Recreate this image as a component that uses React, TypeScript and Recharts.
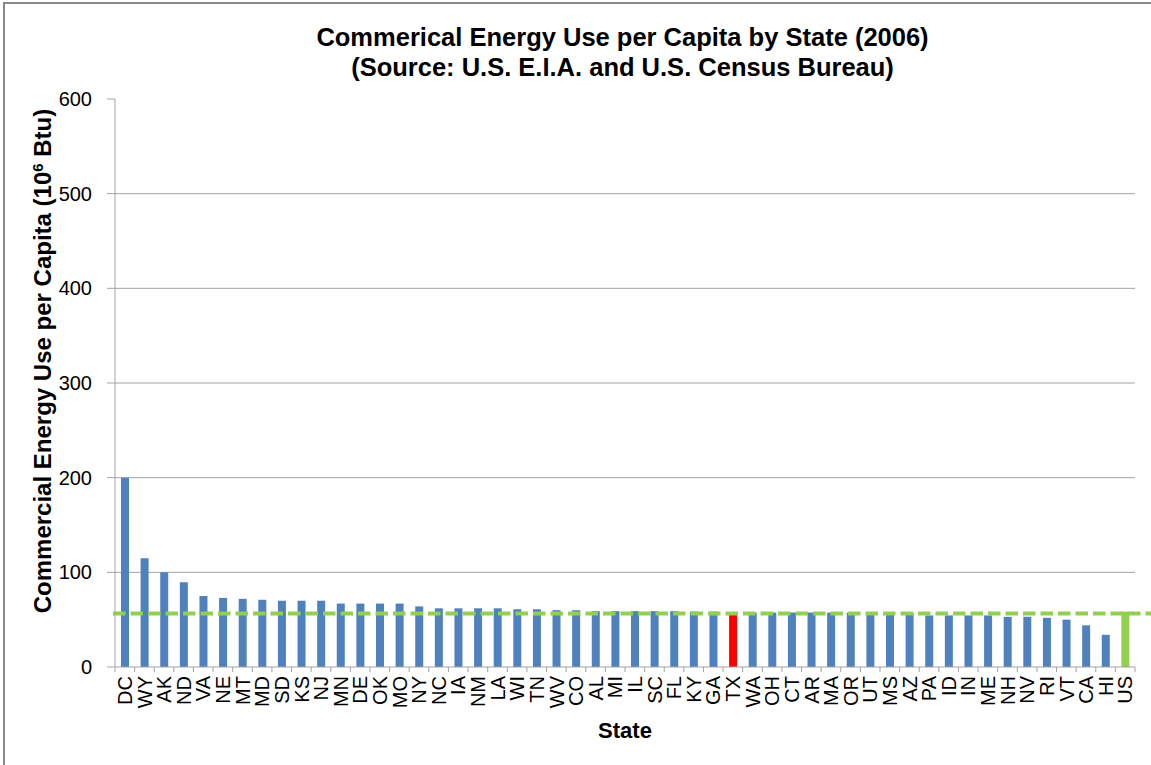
import React from 'react';
import { BarChart, Bar, XAxis, YAxis, CartesianGrid, Cell, ReferenceLine } from 'recharts';

const states = [
    'DC', 'WY', 'AK', 'ND', 'VA', 'NE', 'MT', 'MD', 'SD', 'KS', 'NJ', 'MN', 'DE', 'OK', 'MO', 'NY', 'NC',
    'IA', 'NM', 'LA', 'WI', 'TN', 'WV', 'CO', 'AL', 'MI', 'IL', 'SC', 'FL', 'KY', 'GA', 'TX', 'WA', 'OH',
    'CT', 'AR', 'MA', 'OR', 'UT', 'MS', 'AZ', 'PA', 'ID', 'IN', 'ME', 'NH', 'NV', 'RI', 'VT', 'CA', 'HI', 'US',
];

// 10^6 Btu per person
const energyUse = [
    200, 115, 100, 89.5, 75, 73, 72, 71, 70, 70, 70, 67, 67, 67, 67, 64, 62,
    62, 62, 62, 61, 61, 60, 60, 59, 59, 59, 59, 59, 58.5, 58.5, 58, 57.5, 57.5,
    57.5, 57.5, 57.5, 57.5, 57.5, 57, 57, 54.5, 54.5, 54.5, 54.5, 53, 53, 52, 50, 44, 34, 58.5,
];

const usAverage = 56.5;
const highlightState = 'TX';
const totalLabel = 'US';

const yTicks = [0, 100, 200, 300, 400, 500, 600];
const gridValues = [100, 200, 300, 400, 500];

const data = states.map((state, i) => ({ state, value: energyUse[i] }));

const CHART_W = 1151;
const CHART_H = 765;
const MARGIN = { top: 99, right: 16, bottom: 0, left: 0 };
const Y_AXIS_W = 115;
const X_AXIS_H = 98;
const BAND = (CHART_W - MARGIN.right - Y_AXIS_W) / states.length;

const FONT = '"Liberation Sans", Arial, sans-serif';
const AXIS_GREY = '#A3A3A3';

const barColor = (state: string) => {
    if (state === highlightState) return '#FF0000';
    if (state === totalLabel) return '#92D050';
    return '#4F81BD';
};

const StateTick = (props: any) => {
    const { x, y, payload, index } = props;
    const last = index === states.length - 1;
    return (
        <g>
            <line x1={x - BAND / 2} x2={x - BAND / 2} y1={y - 9} y2={y - 4} stroke={AXIS_GREY} />
            {last && <line x1={x + BAND / 2} x2={x + BAND / 2} y1={y - 9} y2={y - 4} stroke={AXIS_GREY} />}
            <text
                transform={`translate(${x},${y}) rotate(-90)`}
                textAnchor="end"
                dy="0.36em"
                fontSize={20}
                fontFamily={FONT}
                fill="#000"
            >
                {payload.value}
            </text>
        </g>
    );
};

const AvgLine = (props: any) => {
    const { x1, y1, x2, y2 } = props;
    return (
        <line
            x1={x1 - 2}
            x2={x2 + 16}
            y1={y1}
            y2={y2}
            stroke="#92D050"
            strokeWidth={4}
            strokeDasharray="12.5 5"
        />
    );
};

const YTitle = () => (
    <text
        transform="translate(42,361) rotate(-90)"
        textAnchor="middle"
        dy="0.36em"
        fontSize={24}
        fontWeight="bold"
        fontFamily={FONT}
        fill="#000"
    >
        Commercial Energy Use per Capita (10
        <tspan dy={-8} fontSize={15}>6</tspan>
        <tspan dy={8}> Btu)</tspan>
    </text>
);

const XTitle = () => (
    <text x={625} y={738} textAnchor="middle" fontSize={22} fontWeight="bold" fontFamily={FONT} fill="#000">
        State
    </text>
);

export default function App() {
    return (
        <div
            style={{
                position: 'absolute',
                left: 0,
                top: 0,
                width: CHART_W,
                height: CHART_H,
                overflow: 'hidden',
                background: '#fff',
            }}
        >
            {/* chart frame, only top and left edges show */}
            <div
                style={{
                    position: 'absolute',
                    left: 3,
                    top: 2,
                    width: CHART_W + 20,
                    height: CHART_H + 20,
                    borderTop: '2px solid #888',
                    borderLeft: '2px solid #888',
                }}
            />

            {/* Title */}
            <div
                style={{
                    position: 'absolute',
                    left: 0,
                    width: 1245,
                    top: 22,
                    textAlign: 'center',
                    fontFamily: FONT,
                    fontWeight: 'bold',
                    fontSize: 25.5,
                    lineHeight: '30px',
                    color: '#000',
                    zIndex: 2,
                }}
            >
                <div>Commerical Energy Use per Capita by State (2006)</div>
                <div>(Source: U.S. E.I.A. and U.S. Census Bureau)</div>
            </div>

            <div style={{ position: 'absolute', left: 0, top: 0 }}>
                <BarChart width={CHART_W} height={CHART_H} data={data} margin={MARGIN}>
                    <CartesianGrid vertical={false} horizontalValues={gridValues} stroke={AXIS_GREY} />
                    <XAxis
                        dataKey="state"
                        interval={0}
                        height={X_AXIS_H}
                        tickLine={false}
                        tickSize={5}
                        tickMargin={4}
                        axisLine={{ stroke: AXIS_GREY }}
                        tick={<StateTick />}
                        label={<XTitle />}
                    />
                    <YAxis
                        width={Y_AXIS_W}
                        domain={[0, 600]}
                        ticks={yTicks}
                        interval={0}
                        tickSize={8}
                        tickMargin={15}
                        axisLine={{ stroke: AXIS_GREY }}
                        tickLine={{ stroke: AXIS_GREY }}
                        tick={{ fontSize: 20, fontFamily: FONT, fill: '#000' }}
                        label={<YTitle />}
                    />
                    <Bar dataKey="value" barSize={8} isAnimationActive={false}>
                        {data.map(d => (
                            <Cell key={d.state} fill={barColor(d.state)} />
                        ))}
                    </Bar>
                    <ReferenceLine y={usAverage} shape={<AvgLine />} ifOverflow="visible" />
                </BarChart>
            </div>
        </div>
    );
}
